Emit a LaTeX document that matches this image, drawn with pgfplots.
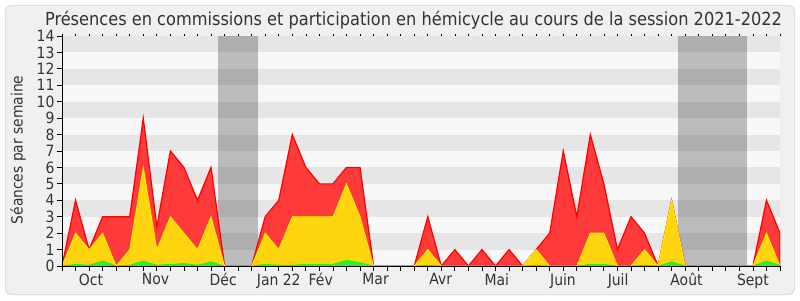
\documentclass[border=0pt]{standalone}
\usepackage{pgfplots}
\usepackage{pgfplotstable}
\pgfplotsset{compat=1.18}
\usepackage{fontspec}
\setmainfont{DejaVu Sans Condensed}
\definecolor{bgc}{RGB}{240,240,240}
\definecolor{bord}{RGB}{222,222,222}
\definecolor{bandg}{RGB}{230,230,230}
\definecolor{bandw}{RGB}{248,248,248}
\definecolor{txt}{RGB}{51,51,51}
\definecolor{redfill}{RGB}{255,58,58}
\definecolor{redline}{RGB}{255,0,0}
\definecolor{yelfill}{RGB}{255,213,16}
\definecolor{yelline}{RGB}{255,240,0}
\definecolor{grnfill}{RGB}{50,235,50}
\definecolor{grnline}{RGB}{0,255,0}

\pgfplotstableread{
x tot yel grn
0 0 0 0
1 4 2 0.1
2 1 1 0.05
3 3 2 0.3
4 3 0 0
5 3 1 0.05
6 9 6 0.3
7 2.4 1 0.05
8 7 3 0.1
9 6 2 0.15
10 4 1 0.05
11 6 3 0.25
12 0 0 0
13 0 0 0
14 0 0 0
15 3 2 0.1
16 4 1 0.05
17 8 3 0.05
18 6 3 0.1
19 5 3 0.1
20 5 3 0.1
21 6 5 0.35
22 6 3 0.2
23 0 0 0
24 0 0 0
25 0 0 0
26 0 0 0
27 3 1 0.05
28 0 0 0
29 1 0 0
30 0 0 0
31 1 0 0
32 0 0 0
33 1 0 0
34 0 0 0
35 1 1 0.05
36 2 0 0
37 7 0 0
38 3 0 0
39 8 2 0.1
40 5 2 0.1
41 1 0 0
42 3 0 0
43 2 1 0.05
44 0 0 0
45 4 4 0.25
46 0 0 0
47 0 0 0
48 0 0 0
49 0 0 0
50 0 0 0
51 0 0 0
52 4 2 0.3
53 2 0 0.05
}\data

\begin{document}
\begin{tikzpicture}[x=1pt,y=1pt]
\fill[white] (0,0) rectangle (800,300);
\filldraw[fill=bgc, draw=bord, line width=1pt, rounded corners=6pt] (5.5,5.5) rectangle (794.5,294.5);
\node[font=\fontsize{18}{20}\selectfont, text=txt] at (413.5,280) {Présences en commissions et participation en hémicycle au cours de la session 2021-2022};
\node[rotate=90, font=\fontsize{15.4}{17}\selectfont, text=txt] at (18,150) {Séances par semaine};
\begin{axis}[
  at={(62pt,34pt)}, anchor=south west, scale only axis,
  width=718pt, height=230pt,
  xmin=0, xmax=53, ymin=0, ymax=14,
  /pgf/number format/assume math mode=true,
  axis background/.style={fill=bandw},
  axis x line*=bottom, axis y line*=left,
  axis line style={-, black, line width=0.8pt},
  axis on top,
  xtick={0,...,53}, xticklabels={},
  ytick={0,...,14},
  tick align=outside, major tick length=5pt,
  tick style={black, line width=0.8pt},
  ticklabel style={font=\fontsize{15.5}{17}\selectfont, text=txt},
  yticklabel style={xshift=1pt},
  extra x ticks={2.14,6.9,11.9,16.0,19.1,23.15,27.96,32.1,36.98,41.05,46.1,51.0},
  extra x tick labels={Oct,Nov,Déc,Jan 22,Fév,Mar,Avr,Mai,Juin,Juil,Août,Sept},
  extra x tick style={major tick length=0pt, tick label style={yshift=-4pt}},
]
\fill[bandg] (axis cs:0,1) rectangle (axis cs:53,2);
\fill[bandg] (axis cs:0,3) rectangle (axis cs:53,4);
\fill[bandg] (axis cs:0,5) rectangle (axis cs:53,6);
\fill[bandg] (axis cs:0,7) rectangle (axis cs:53,8);
\fill[bandg] (axis cs:0,9) rectangle (axis cs:53,10);
\fill[bandg] (axis cs:0,11) rectangle (axis cs:53,12);
\fill[bandg] (axis cs:0,13) rectangle (axis cs:53,14);
\fill[black, opacity=0.24] (axis cs:11.5,0) rectangle (axis cs:14.5,14);
\fill[black, opacity=0.24] (axis cs:45.5,0) rectangle (axis cs:50.6,14);
\draw[bord, line width=1pt] (axis cs:53,0) -- (axis cs:53,14);
\addplot[draw=redline, line width=1.2pt, fill=redfill] table[x=x,y=tot]{\data} \closedcycle;
\addplot[draw=yelline, line width=0.8pt, fill=yelfill] table[x=x,y=yel]{\data} \closedcycle;
\addplot[draw=grnline, line width=0.6pt, fill=grnfill] table[x=x,y=grn]{\data} \closedcycle;
\end{axis}
\begin{axis}[
  at={(62pt,34pt)}, anchor=south west, scale only axis,
  width=718pt, height=230pt,
  xmin=0, xmax=53, ymin=0, ymax=14,
  axis x line*=top, hide y axis,
  axis line style={draw=none},
  xtick={0,...,53}, xticklabels={},
  tick align=outside, major tick length=2pt,
  tick style={black, line width=0.7pt},
]
\end{axis}
\end{tikzpicture}
\end{document}
